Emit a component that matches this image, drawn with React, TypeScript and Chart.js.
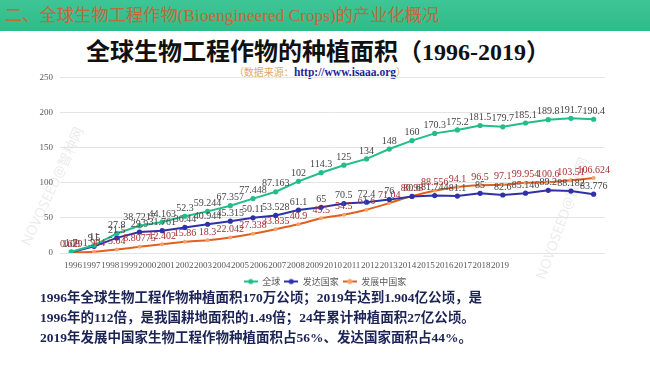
import React, { useEffect, useRef } from 'react';
import { Chart, registerables } from 'chart.js';

Chart.register(...registerables);

const years = ['1996', '1997', '1998', '1999', '2000', '2001', '2002', '2003', '2004', '2005', '2006', '2007', '2008', '2009', '2010', '2011', '2012', '2013', '2014', '2015', '2016', '2017', '2018', '2019'];
const globalArea = [1.7, 11, 27.8, 38.7217, 44.163, 52.3, 59.244, 67.357, 77.448, 87.163, 102, 114.3, 125, 134, 148, 160, 170.3, 175.2, 181.5, 179.7, 185.1, 189.8, 191.7, 190.4];
const developedArea = [1.08, 9.5, 21.5, 29.9, 31.761, 36.44, 40.944, 45.315, 50.11, 53.528, 61.1, 65, 70.5, 72.4, 76, 80.6, 81.744, 81.1, 85, 82.6, 85.146, 89.2, 88.182, 83.776];
const developingArea = [0.629, 1.904, 5.04, 8.80775, 12.402, 15.86, 18.3, 22.042, 27.338, 33.835, 40.9, 49.5, 54.5, 61.6, 71.04, 80.98, 88.556, 94.1, 96.5, 97.1, 99.954, 100.6, 103.51, 106.624];
const seriesNames = ['全球', '发达国家', '发展中国家'];
const yMin = 0;
const yMax = 250;
const yStep = 50;

const SERIF = '"Liberation Serif", "Times New Roman", serif';
const MIXED = '"Liberation Serif", "Noto Sans CJK SC", serif';

const COLORS = [
  { line: '#22bd8a', dot: '#22bd8a', label: '#444444' },
  { line: '#3030a8', dot: '#3030a8', label: '#444444' },
  { line: '#e0601f', dot: '#f2a36c', label: '#a82e2e' },
];

function marker(line: string, dot: string) {
  const c = document.createElement('canvas');
  c.width = 14;
  c.height = 8;
  const g = c.getContext('2d')!;
  g.strokeStyle = line;
  g.lineWidth = 2;
  g.beginPath();
  g.moveTo(0, 4);
  g.lineTo(14, 4);
  g.stroke();
  g.fillStyle = dot;
  g.beginPath();
  g.arc(7, 4, 2.6, 0, Math.PI * 2);
  g.fill();
  return c;
}

const valueLabels = {
  id: 'valueLabels',
  afterDatasetsDraw(chart: any) {
    const ctx = chart.ctx;
    ctx.save();
    ctx.font = '10px "Liberation Serif"';
    ctx.textAlign = 'center';
    ctx.textBaseline = 'bottom';
    chart.data.datasets.forEach((ds: any, di: number) => {
      const meta = chart.getDatasetMeta(di);
      ctx.fillStyle = COLORS[di].label;
      meta.data.forEach((pt: any, i: number) => {
        ctx.fillText(String(ds.data[i]), pt.x, pt.y - 3);
      });
    });
    ctx.restore();
  },
};

function ChartCanvas() {
  const ref = useRef<HTMLCanvasElement | null>(null);
  useEffect(() => {
    if (!ref.current) return;
    const allData = [globalArea, developedArea, developingArea];
    const markers = COLORS.map((c) => marker(c.line, c.dot));
    const chart = new Chart(ref.current, {
      type: 'line',
      data: {
        labels: years,
        datasets: allData.map((d, i) => ({
          label: seriesNames[i],
          data: d,
          xAxisID: 'x',
          yAxisID: 'y',
          borderColor: COLORS[i].line,
          backgroundColor: COLORS[i].dot,
          pointBackgroundColor: COLORS[i].dot,
          pointBorderColor: COLORS[i].dot,
          pointRadius: i === 2 ? 2 : 2.6,
          pointBorderWidth: 0,
          borderWidth: 2,
          tension: i === 2 ? 0.25 : 0,
          fill: false,
        })),
      },
      options: {
        animation: false,
        responsive: false,
        devicePixelRatio: 1,
        layout: { padding: { left: 0, right: 0, top: 7, bottom: 0 } },
        scales: {
          x: { type: 'category', offset: true, display: false },
          years: {
            type: 'linear',
            axis: 'x',
            position: 'bottom',
            min: -0.7,
            max: 28.65,
            bounds: 'data',
            grid: { display: false, drawTicks: false },
            border: { display: false },
            afterBuildTicks: (s: any) => {
              s.ticks = years.map((_, i) => ({ value: i }));
            },
            afterFit: (s: any) => {
              s.height = 20;
            },
            ticks: {
              autoSkip: false,
              maxRotation: 0,
              padding: 7,
              color: '#595959',
              font: { family: SERIF, size: 9 },
              callback: (v: any) => years[Math.round(v)] ?? '',
            },
          } as any,
          y: {
            min: yMin,
            max: yMax,
            grid: { color: '#e4e4e4', drawTicks: false },
            border: { display: false },
            afterFit: (s: any) => {
              s.width = 60;
            },
            ticks: {
              stepSize: yStep,
              padding: 7,
              color: '#595959',
              font: { family: SERIF, size: 9 },
            },
          },
          spacer: {
            type: 'linear',
            axis: 'y',
            position: 'right',
            grid: { display: false, drawTicks: false },
            border: { display: false },
            ticks: { display: false },
            afterFit: (s: any) => {
              s.width = 45;
            },
          } as any,
        },
        plugins: {
          tooltip: { enabled: false },
          legend: {
            position: 'bottom',
            labels: {
              usePointStyle: true,
              pointStyleWidth: 14,
              boxHeight: 8,
              padding: 4,
              color: '#595959',
              font: { family: '"Noto Sans CJK SC", sans-serif', size: 9 },
              generateLabels: () =>
                seriesNames.map((n, i) => ({
                  text: n,
                  pointStyle: markers[i] as any,
                  fillStyle: COLORS[i].line,
                  strokeStyle: COLORS[i].line,
                  lineWidth: 0,
                  hidden: false,
                  datasetIndex: i,
                  fontColor: '#595959',
                })),
            },
          },
        },
      },
      plugins: [valueLabels],
    } as any);
    return () => chart.destroy();
  }, []);
  return <canvas ref={ref} width={650} height={231} style={{ display: 'block', width: 650, height: 231 }} />;
}

function Watermark({ x, y, angle, len }: { x: number; y: number; angle: number; len: number }) {
  return (
    <div
      style={{
        position: 'absolute',
        left: x - len / 2,
        top: y - 9,
        width: len,
        height: 18,
        lineHeight: '18px',
        textAlign: 'center',
        transform: `rotate(${angle}deg)`,
        color: 'rgba(150,150,150,0.2)',
        fontFamily: '"Noto Sans", "Noto Sans CJK SC", sans-serif',
        fontSize: 14,
        whiteSpace: 'nowrap',
        pointerEvents: 'none',
      }}
    >
      NOVOSEED@智种网
    </div>
  );
}

export default function App() {
  return (
    <div style={{ position: 'absolute', left: 0, top: 0, width: 650, height: 365, background: '#ffffff', overflow: 'hidden' }}>
      <div
        style={{
          position: 'absolute',
          left: 0,
          top: 0,
          width: 650,
          height: 31,
          background: 'linear-gradient(#3fc596, #2fbb89)',
          color: '#c2693a',
          fontFamily: MIXED,
          fontSize: 17.3,
          lineHeight: '31px',
          paddingLeft: 5,
          whiteSpace: 'nowrap',
          boxSizing: 'border-box',
        }}
      >
        二、全球生物工程作物(Bioengineered Crops)的产业化概况
      </div>
      <div
        style={{
          position: 'absolute',
          left: -7,
          top: 37,
          width: 650,
          textAlign: 'center',
          fontFamily: MIXED,
          fontWeight: 'bold',
          fontSize: 24,
          lineHeight: '30px',
          color: '#111111',
          whiteSpace: 'nowrap',
        }}
      >
        全球生物工程作物的种植面积（1996-2019）
      </div>
      <div
        style={{
          position: 'absolute',
          left: -5,
          top: 64,
          width: 650,
          textAlign: 'center',
          fontFamily: MIXED,
          fontSize: 10,
          lineHeight: '16px',
          color: '#e3a865',
          whiteSpace: 'nowrap',
        }}
      >
        （数据来源：
        <span style={{ color: '#1f1f9a', fontWeight: 'bold', fontSize: 11.5 }}>http://www.isaaa.org</span>）
      </div>
      <Watermark x={51} y={188} angle={-65} len={125} />
      <Watermark x={561} y={220} angle={-70} len={125} />
      <div style={{ position: 'absolute', left: 0, top: 65, width: 650, height: 231 }}>
        <ChartCanvas />
      </div>
      <div
        style={{
          position: 'absolute',
          left: 40,
          top: 288,
          width: 610,
          fontFamily: MIXED,
          fontWeight: 'bold',
          fontSize: 13.5,
          lineHeight: '20px',
          color: '#1c2456',
          whiteSpace: 'nowrap',
        }}
      >
        <div>1996年全球生物工程作物种植面积170万公顷；2019年达到1.904亿公顷，是</div>
        <div>1996年的112倍，是我国耕地面积的1.49倍；24年累计种植面积27亿公顷。</div>
        <div>2019年发展中国家生物工程作物种植面积占56%、发达国家面积占44%。</div>
      </div>
    </div>
  );
}
